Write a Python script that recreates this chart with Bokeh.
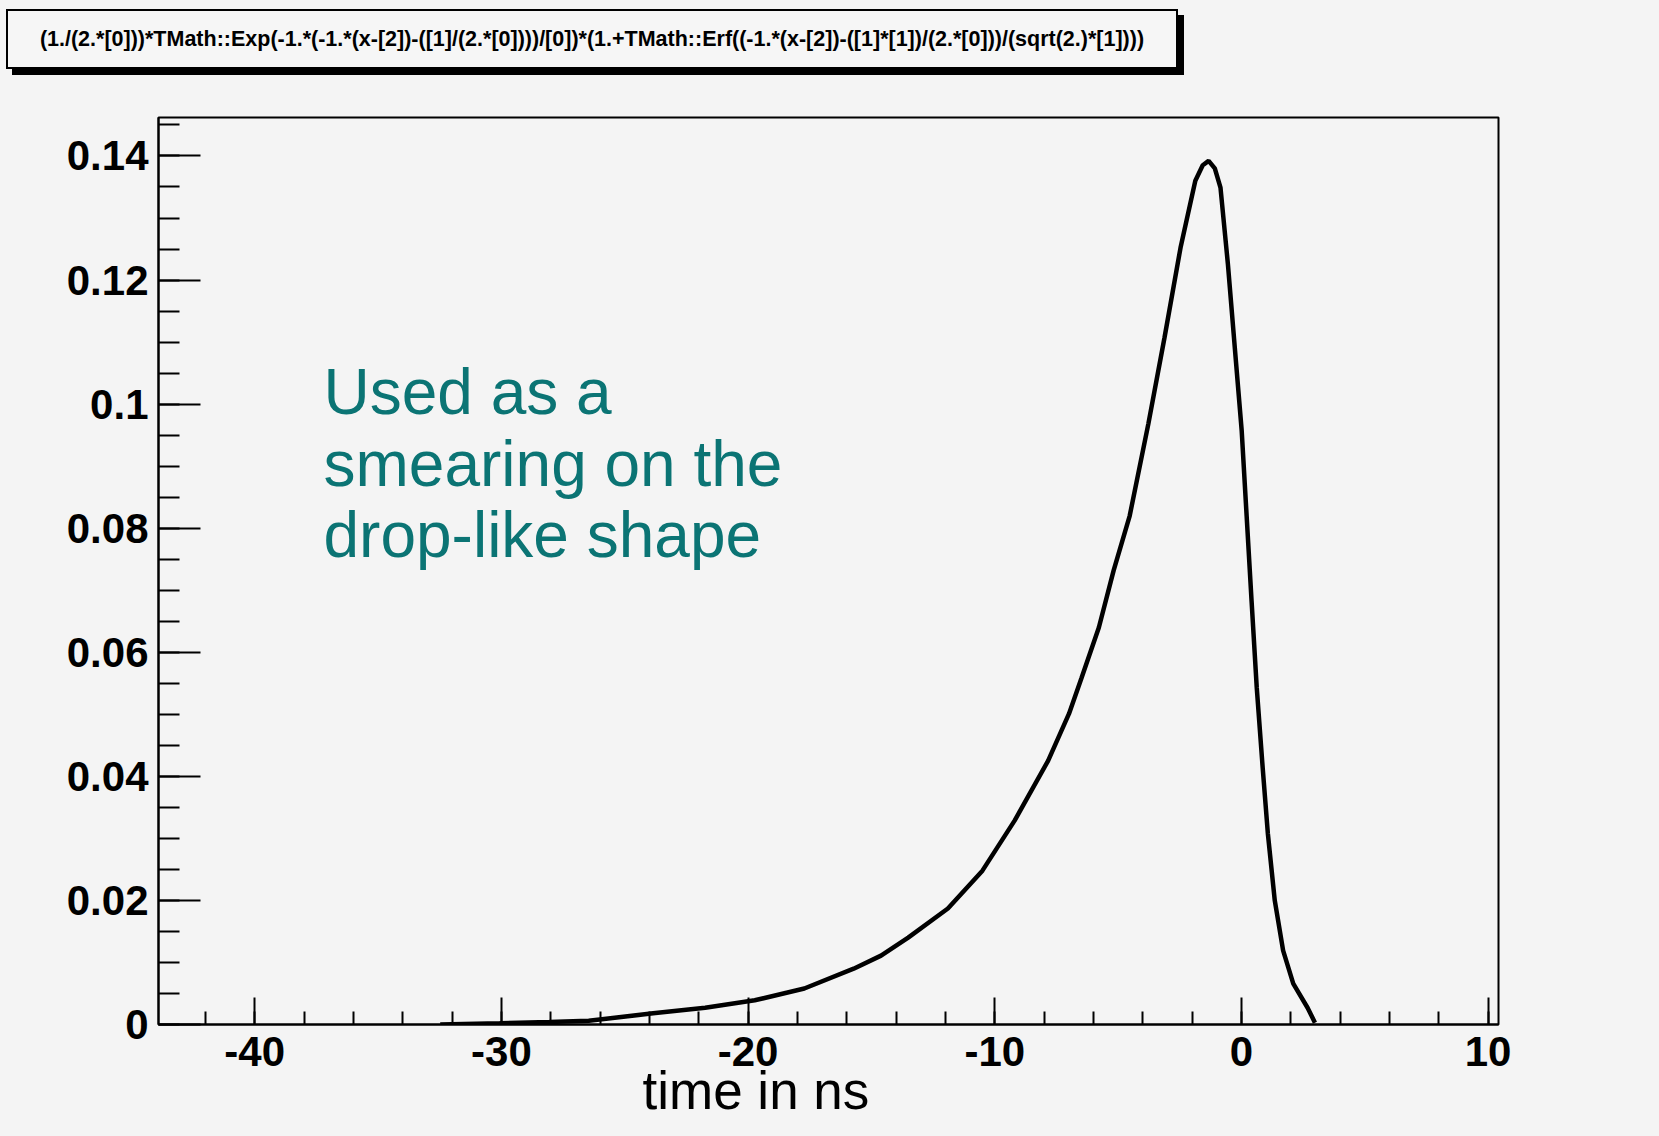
import numpy as np
from bokeh.plotting import figure
from bokeh.layouts import column
from bokeh.models import FixedTicker, CustomJSTickFormatter, Label, Range1d, Div, Title
from bokeh.embed import file_html
from bokeh.resources import INLINE

# ---- data ----
time_ns = [-32.48, -30.07, -28.06, -26.46, -23.85, -21.74, -19.73, -17.72, -15.72, -14.61,
           -13.51, -11.90, -10.50, -9.19, -7.84, -6.99, -6.48, -5.78, -5.18, -4.53,
           -3.77, -3.12, -2.47, -1.87, -1.57, -1.33, -1.08, -0.85, -0.55, -0.27,
           0.01, 0.21, 0.41, 0.62, 0.86, 1.07, 1.35, 1.69, 2.10, 2.68, 2.98]
density = [0.0, 0.0002, 0.0004, 0.0006, 0.0018, 0.0027, 0.0039, 0.0058, 0.0090, 0.0111,
           0.0140, 0.0187, 0.0248, 0.0329, 0.0425, 0.0501, 0.0559, 0.0640, 0.0732, 0.0820,
           0.0969, 0.1107, 0.1252, 0.1360, 0.1385, 0.1392, 0.1380, 0.1349, 0.1226, 0.1091,
           0.0957, 0.0820, 0.0683, 0.0543, 0.0414, 0.0308, 0.0200, 0.0119, 0.0066, 0.0027, 0.0003]

x_tick_values = [-40, -30, -20, -10, 0, 10]
x_tick_labels = ["-40", "-30", "-20", "-10", "0", "10"]
y_tick_values = [0.0, 0.02, 0.04, 0.06, 0.08, 0.10, 0.12, 0.14]
y_tick_labels = ["0", "0.02", "0.04", "0.06", "0.08", "0.1", "0.12", "0.14"]

title_text = ("(1./(2.*[0]))*TMath::Exp(-1.*(-1.*(x-[2])-([1]/(2.*[0])))/[0])*"
              "(1.+TMath::Erf((-1.*(x-[2])-([1]*[1])/(2.*[0]))/(sqrt(2.)*[1])))")
x_title = "time in ns"
note_lines = ["Used as a", "smearing on the", "drop-like shape"]

BG = "#f4f4f4"
TEAL = "#0b7474"
TOP_H = 107

# ---- title box (ROOT TPaveText with shadow) ----
box_html = (
    '<div style="padding:9px 0 0 6px;">'
    '<div style="box-sizing:border-box; width:1172px; height:60px; border:2px solid #000;'
    ' box-shadow:6px 6px 0 0 #000; background:#f6f6f6; display:flex; align-items:center;'
    ' justify-content:center; font-family:\'Liberation Sans\', Arial, sans-serif;'
    ' font-weight:bold; font-size:21.5px; color:#000; white-space:nowrap;">'
    + title_text +
    '</div></div>'
)
top = Div(text=box_html, width=1659, height=TOP_H, margin=0,
          styles={"background-color": BG})

p = figure(width=1659, height=1136 - TOP_H, output_backend="svg", toolbar_location=None,
           x_range=Range1d(-43.9, 10.42), y_range=Range1d(0, 0.1462),
           min_border_left=158, min_border_right=161, min_border_top=117 - TOP_H,
           min_border_bottom=112)
p.background_fill_color = BG
p.border_fill_color = BG
p.outline_line_color = "black"
p.outline_line_width = 2
p.grid.visible = False

p.line(time_ns, density, line_color="black", line_width=4.5)

def fmt(vals, labs):
    return CustomJSTickFormatter(args=dict(vals=vals, labs=labs), code="""
        for (let i = 0; i < vals.length; i++) {
            if (Math.abs(vals[i] - tick) < 1e-9) { return labs[i]; }
        }
        return "";
    """)

xa = p.xaxis[0]
xa.ticker = FixedTicker(ticks=x_tick_values, minor_ticks=list(np.arange(-42, 11, 2)))
xa.formatter = fmt(x_tick_values, x_tick_labels)
xa.major_tick_in = 27
xa.major_tick_out = 0
xa.minor_tick_in = 13
xa.minor_tick_out = 0
xa.major_label_standoff = 12

ya = p.yaxis[0]
ya.ticker = FixedTicker(ticks=y_tick_values,
                        minor_ticks=[round(v, 4) for v in np.arange(0, 0.1451, 0.005)])
ya.formatter = fmt(y_tick_values, y_tick_labels)
ya.major_tick_in = 42
ya.major_tick_out = 0
ya.minor_tick_in = 21
ya.minor_tick_out = 0
ya.major_label_standoff = 10

for ax in (xa, ya):
    ax.axis_line_color = "black"
    ax.axis_line_width = 2
    ax.major_tick_line_color = "black"
    ax.major_tick_line_width = 2
    ax.minor_tick_line_color = "black"
    ax.minor_tick_line_width = 2
    ax.major_label_text_font = "Liberation Sans"
    ax.major_label_text_font_style = "bold"
    ax.major_label_text_font_size = "42px"
    ax.major_label_text_color = "black"

# x-axis title, placed under the tick labels
p.add_layout(Title(text=x_title, align="left", offset=484, vertical_align="top",
                   standoff=-16, text_font="Liberation Sans", text_font_style="normal",
                   text_font_size="53px", text_color="black"), "below")

# annotation text inside the frame (frame-relative screen units)
FL, FB = 158, 1024
for line, base in zip(note_lines, [391, 463, 534]):
    p.add_layout(Label(x=323 - FL, y=FB - base, x_units="screen", y_units="screen", text=line,
                       text_align="left", text_baseline="alphabetic", text_font="Liberation Sans",
                       text_font_size="64px", text_color=TEAL))

layout = column(top, p, spacing=0, styles={"background-color": BG})
open("out.html", "w").write(file_html(layout, INLINE))
